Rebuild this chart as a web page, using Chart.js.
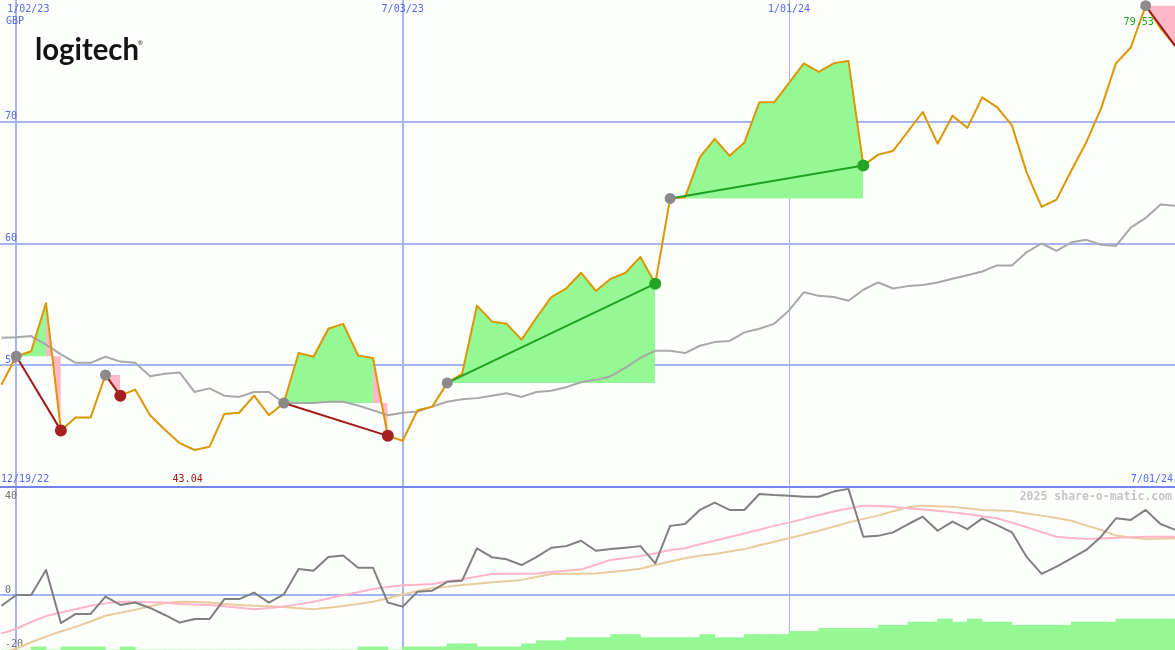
<!DOCTYPE html>
<html><head><meta charset="utf-8">
<script src="https://cdn.jsdelivr.net/npm/chart.js@4.4.1/dist/chart.umd.min.js"></script>
<style>
html,body{margin:0;padding:0;background:#fcfffc;width:1175px;height:650px;overflow:hidden}
#top{position:absolute;left:0;top:0}
#bot{position:absolute;left:0;top:485px}
</style></head><body>
<canvas id="top" width="1175" height="487"></canvas>
<canvas id="bot" width="1175" height="165"></canvas>
<script>
// ---- data (weekly, first value = week before 1/02/23) ----
const firstWeek = -1;
const price = [48.4, 50.74, 51.15, 55.1, 44.65, 45.7, 45.7, 49.2, 47.5, 48.0,
  45.9, 44.7, 43.6, 43.04, 43.3, 46.0, 46.1, 47.5, 45.9, 46.9,
  51.0, 50.7, 53.0, 53.4, 50.8, 50.6, 44.2, 43.8, 46.3, 46.6,
  48.55, 49.3, 54.9, 53.6, 53.4, 52.1, 53.9, 55.6, 56.3, 57.6,
  56.1, 57.1, 57.6, 58.9, 56.7, 63.7, 63.8, 67.1, 68.6, 67.2,
  68.3, 71.6, 71.6, 73.2, 74.8, 74.1, 74.8, 75.0, 66.4, 67.3,
  67.6, 69.2, 70.8, 68.2, 70.5, 69.5, 72.0, 71.2, 69.7, 65.8,
  63.0, 63.6, 66.0, 68.3, 71.1, 74.8, 76.1, 79.53, 77.7, 76.2];
const priceAvg = [52.25, 52.3, 52.4, 51.7, 50.9, 50.2, 50.2, 50.7, 50.3, 50.2,
  49.1, 49.3, 49.4, 47.8, 48.1, 47.5, 47.4, 47.8, 47.8, 46.9,
  46.9, 46.9, 47.0, 47.0, 46.7, 46.3, 45.9, 46.1, 46.2, 46.6,
  47.0, 47.2, 47.3, 47.5, 47.7, 47.4, 47.8, 47.9, 48.2, 48.6,
  48.8, 49.1, 49.8, 50.6, 51.2, 51.2, 51.0, 51.6, 51.9, 52.0,
  52.7, 53.0, 53.4, 54.5, 56.0, 55.7, 55.6, 55.3, 56.2, 56.8,
  56.3, 56.5, 56.6, 56.8, 57.1, 57.4, 57.7, 58.2, 58.2, 59.3,
  60.0, 59.4, 60.1, 60.3, 59.9, 59.8, 61.3, 62.1, 63.2, 63.1];
const momentum = [-4, 0, 0, 9.3, -10.4, -7.0, -7.0, -0.6, -3.7, -2.8,
  -4.8, -7.4, -10.2, -8.9, -8.9, -1.5, -1.5, 0.9, -2.8, 0.2,
  9.6, 9.0, 14.1, 14.6, 10.1, 10.1, -2.8, -4.3, 1.2, 1.6,
  4.9, 5.3, 17.3, 14.0, 13.2, 11.1, 14.0, 17.5, 18.1, 20.1,
  16.4, 17.0, 17.5, 18.1, 11.7, 25.6, 26.3, 31.5, 34.2, 31.5,
  31.5, 37.4, 37.0, 36.8, 36.4, 36.4, 38.3, 39.3, 21.6, 21.9,
  23.2, 26.2, 29.0, 23.8, 27.2, 24.4, 28.4, 25.9, 23.2, 14.0,
  7.8, 10.5, 13.6, 16.7, 21.6, 28.4, 27.8, 31.5, 26.3, 24.1];
const momentumFast = [-14.3, -12.5, -10.0, -7.8, -6.5, -5.3, -4.0, -3.1, -2.5, -2.6,
  -2.7, -2.8, -3.3, -3.5, -3.7, -4.2, -4.7, -5.3, -4.8, -4.3,
  -3.4, -2.5, -1.3, 0, 1.0, 2.2, 3.0, 3.6, 3.8, 4.1,
  5.0, 5.8, 6.8, 7.8, 7.9, 7.9, 8.0, 8.5, 9.0, 9.5,
  11.2, 13.0, 13.7, 14.4, 15.5, 16.7, 17.3, 18.8, 20.1, 21.5,
  22.8, 24.2, 25.6, 26.8, 28.2, 29.6, 30.9, 32.0, 33.1, 33.0,
  32.7, 32.1, 31.7, 31.2, 30.6, 30.0, 29.2, 28.4, 26.8, 25.1,
  23.3, 21.6, 21.1, 20.7, 20.9, 21.2, 21.4, 21.6, 21.6, 21.6];
const momentumSlow = [-21.5, -19.8, -17.5, -15.4, -13.5, -11.8, -9.8, -7.7, -6.6, -5.5,
  -4.2, -3.0, -2.5, -2.6, -2.8, -3.3, -3.7, -4.0, -4.2, -4.4,
  -4.9, -5.3, -4.7, -4.1, -3.3, -2.5, -1.2, 0.2, 1.5, 2.5,
  3.1, 3.7, 4.2, 4.7, 5.1, 5.6, 6.7, 7.8, 7.9, 7.9,
  8.0, 8.5, 9.1, 9.7, 11.1, 12.4, 13.6, 14.5, 15.2, 16.1,
  17.0, 18.4, 19.7, 21.0, 22.4, 23.8, 25.3, 26.9, 28.2, 29.4,
  31.0, 32.5, 33.1, 32.9, 32.7, 32.1, 31.5, 31.3, 31.1, 30.2,
  29.4, 28.5, 27.5, 25.8, 24.1, 22.0, 21.3, 20.7, 20.8, 21.0];
const volumeLevel = [0, 0, 1, 0, 1, 1, 1, 0, 1, 0,
  0, 0, 0, 0, 0, 0, 0, 0, 0, 0,
  0, 0, 0, 0, 1, 1, 0, 1, 1, 1,
  2, 2, 1, 1, 1, 2, 3, 3, 4, 4,
  4, 5, 5, 4, 4, 4, 4, 5, 4, 4,
  5, 5, 5, 6, 6, 7, 7, 7, 7, 8,
  8, 9, 9, 10, 9, 10, 9, 9, 8, 8,
  8, 8, 9, 9, 9, 10, 10, 10, 10, 10];
const dateTickWeeks = [0, 26, 52];
const dateTickLabels = ['1/02/23', '7/03/23', '1/01/24'];
const priceTicks = [50, 60, 70];
const lowerTicks = [40, 0, -20];
const buyWeeks = [0, 6, 18, 29, 44, 76];
const sellWeeks = [3, 7, 25, 43, 57];   // last buy still open
const currency = 'GBP';
const rangeStartLabel = '12/19/22';
const rangeEndLabel = '7/01/24';
const copyright = '2025 share-o-matic.com';
const brand = 'logitech';

// ---- styles ----
const MONO = '"DejaVu Sans Mono", monospace';
const BLUE = '#5468f0';
const GRID = '#a6b4f4';
const GRID_DARK = '#7484ec';
const ORANGE = '#dc9600';
const GREEN_FILL = '#94f894';
const PINK_FILL = '#ffb8c8';
const DARKRED = '#a01818';
const GREEN = '#22a022';

const lastWeek = firstWeek + price.length - 1;
const idx = w => w - firstWeek;
const pts = arr => arr.map((v, i) => ({x: i + firstWeek, y: v}));
const pxPerWeek = 14.86, firstTickPx = 16.3;
const xMin = -firstTickPx / pxPerWeek;
const xMax = (1175 - firstTickPx) / pxPerWeek;

// ---- trades ----
const fillSets = [], tradeLines = [], markerPts = [], markerCols = [], markerRad = [];
buyWeeks.forEach((b, k) => {
  const s = k < sellWeeks.length ? sellWeeks[k] : lastWeek;
  const level = price[idx(b)];
  const endVal = price[idx(s)];
  const win = endVal > level;
  const seg = [];
  for (let w = b; w <= s; w++) seg.push({x: w, y: price[idx(w)]});
  const nSeg = seg.length - 1;
  fillSets.push({
    data: seg, borderWidth: 0, pointRadius: 0, order: 20, backgroundColor: GREEN_FILL,
    fill: {target: {value: level}, above: GREEN_FILL, below: PINK_FILL},
    segment: {backgroundColor: c => ((!win && c.p1DataIndex === nSeg) || c.p1.parsed.y < level) ? PINK_FILL : GREEN_FILL}
  });
  tradeLines.push({data: [{x: b, y: level}, {x: s, y: endVal}], borderColor: win ? GREEN : DARKRED,
    borderWidth: 2, pointRadius: 0, fill: false, order: 2});
  markerPts.push({x: b, y: level}); markerCols.push('#8a8a8a'); markerRad.push(5.5);
  if (k < sellWeeks.length) {
    markerPts.push({x: s, y: endVal}); markerCols.push(win ? '#24a424' : '#a52020'); markerRad.push(6);
  }
});

const topText = {
  id: 'topText',
  afterDraw(chart) {
    const {ctx} = chart; const xs = chart.scales.x;
    ctx.save();
    ctx.font = '10px ' + MONO; ctx.textBaseline = 'middle';
    ctx.fillStyle = BLUE; ctx.textAlign = 'left';
    ctx.fillText(currency, 6, 21);
    ctx.fillText(rangeStartLabel, 1, 479.5);
    ctx.textAlign = 'right'; ctx.fillText(rangeEndLabel, 1173, 479.5);
    const lo = Math.min(...price), hi = Math.max(...price);
    ctx.textAlign = 'center';
    ctx.fillStyle = DARKRED;
    ctx.fillText(lo.toFixed(2), xs.getPixelForValue(price.indexOf(lo) + firstWeek) - 7, 479.5);
    ctx.fillStyle = GREEN;
    ctx.fillText(hi.toFixed(2), xs.getPixelForValue(price.indexOf(hi) + firstWeek) - 7, 22);
    ctx.fillStyle = '#141414'; ctx.textAlign = 'left'; ctx.textBaseline = 'alphabetic';
    ctx.font = 'bold 31px Lato';
    ctx.fillText(brand, 35, 60, 104);
    ctx.font = '6px Lato'; ctx.fillText('\u00ae', 138, 45);
    ctx.restore();
  }
};
const botText = {
  id: 'botText',
  afterDraw(chart) {
    const {ctx} = chart;
    ctx.save();
    ctx.font = 'bold 11.5px ' + MONO; ctx.textBaseline = 'middle'; ctx.textAlign = 'right';
    ctx.fillStyle = '#c4c4c4';
    ctx.fillText(copyright, 1172, 12);
    ctx.restore();
  }
};

const noPad = s => { s.paddingLeft = 0; s.paddingRight = 0; s.paddingTop = 0; s.paddingBottom = 0; };
const xScale = (withLabels) => ({
  type: 'linear', position: 'top', min: xMin, max: xMax, offset: false,
  afterBuildTicks: s => { s.ticks = dateTickWeeks.map(v => ({value: v})); },
  afterFit: s => { s.height = 0; noPad(s); },
  ticks: {display: withLabels, mirror: true, padding: 3, maxRotation: 0, autoSkip: false, color: BLUE,
    font: {family: MONO, size: 10},
    callback: (v, i) => (i === 0 ? '    ' : '') + dateTickLabels[dateTickWeeks.indexOf(v)]},
  grid: {offset: false, color: GRID, lineWidth: c => (c.tick && c.tick.value === 52) ? 1 : 2, drawTicks: false},
  border: {display: false}
});

const common = {
  responsive: false, animation: false, devicePixelRatio: 1,
  plugins: {legend: {display: false}, tooltip: {enabled: false}},
  elements: {line: {tension: 0, borderJoinStyle: 'round'}, point: {radius: 0}}
};

new Chart(document.getElementById('top'), {
  type: 'line',
  data: {datasets: [
    ...fillSets,
    {data: pts(priceAvg), borderColor: '#a8a8a8', borderWidth: 2, fill: false, order: 6},
    {data: pts(price), borderColor: ORANGE, borderWidth: 2, fill: false, order: 4},
    ...tradeLines,
    {data: markerPts, showLine: false, pointRadius: markerRad, pointBackgroundColor: markerCols,
      pointBorderWidth: 0, order: 1}
  ]},
  options: Object.assign({}, common, {
    layout: {autoPadding: false, padding: 0},
    scales: {
      x: xScale(true),
      y: {min: 40, max: 80,
        afterBuildTicks: s => { s.ticks = priceTicks.map(v => ({value: v})); },
        afterFit: s => { s.width = 0; noPad(s); },
        ticks: {mirror: true, padding: 5, labelOffset: -5, autoSkip: false, color: BLUE, font: {family: MONO, size: 10}},
        grid: {color: GRID, lineWidth: 2, drawTicks: false},
        border: {display: false}}
    }
  }),
  plugins: [topText]
});

new Chart(document.getElementById('bot'), {
  type: 'line',
  data: {datasets: [
    {type: 'bar', yAxisID: 'yv', data: volumeLevel.map((v, i) => ({x: i + firstWeek + 0.5, y: v})),
      backgroundColor: GREEN_FILL, borderWidth: 0, barPercentage: 1, categoryPercentage: 1, order: 20},
    {data: pts(momentumSlow), borderColor: '#e8cc9c', borderWidth: 2, fill: false, order: 6},
    {data: pts(momentumFast), borderColor: '#ffb4c8', borderWidth: 2, fill: false, order: 5},
    {data: pts(momentum), borderColor: '#808080', borderWidth: 2, fill: false, order: 3}
  ]},
  options: Object.assign({}, common, {
    layout: {autoPadding: false, padding: {top: 2}},
    scales: {
      x: xScale(false),
      y: {min: -20.37, max: 40,
        afterBuildTicks: s => { s.ticks = lowerTicks.map(v => ({value: v})); },
        afterFit: s => { s.width = 0; noPad(s); },
        ticks: {mirror: true, padding: 5, labelOffset: -5, autoSkip: false, color: '#707070',
          font: {family: MONO, size: 10, lineHeight: 2.9},
          callback: v => v === lowerTicks[0] ? ['', String(v)] : String(v)},
        grid: {color: c => c.tick && c.tick.value === 0 ? GRID : (c.tick && c.tick.value === 40 ? GRID_DARK : 'rgba(0,0,0,0)'),
          lineWidth: 2, drawTicks: false},
        border: {display: false}},
      yv: {display: false, min: 0, max: 52.6, afterFit: noPad}
    }
  }),
  plugins: [botText]
});
</script></body></html>
